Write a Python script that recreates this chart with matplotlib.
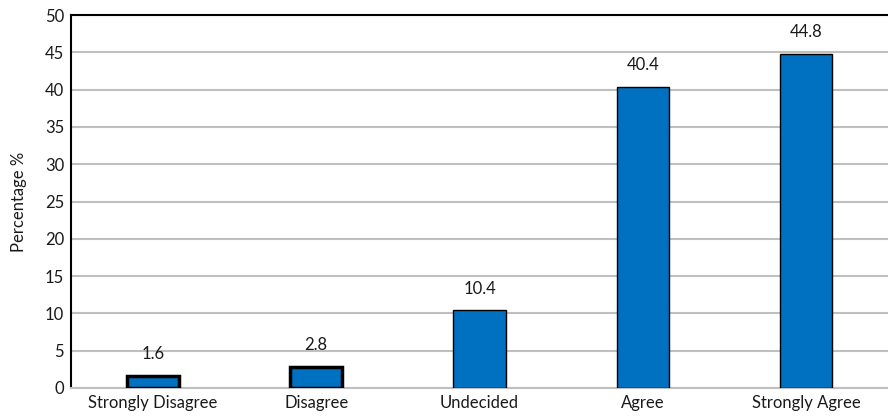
import matplotlib.pyplot as plt

plt.rcParams['font.family'] = ['Lato', 'DejaVu Sans']

# survey responses
responses = ['Strongly Disagree', 'Disagree', 'Undecided', 'Agree', 'Strongly Agree']
percent = [1.6, 2.8, 10.4, 40.4, 44.8]

fig = plt.figure(figsize=(8.88, 4.19), dpi=100)
ax = fig.add_axes([0.08, 0.074, 0.92, 0.89])

x = range(len(responses))
edge_w = [2.5, 2.5, 1, 1, 1]
bars = ax.bar(x, percent, width=0.32, color='#0070C0', edgecolor='black',
              linewidth=edge_w, zorder=3)

for b, v in zip(bars, percent):
    ax.annotate(f'{v}', (b.get_x() + b.get_width() / 2, v),
                xytext=(0, 10), textcoords='offset points',
                ha='center', va='bottom', fontsize=12, color='#1a1a1a')

ax.set_xlim(-0.5, 4.5)
ax.set_ylim(0, 50)
ax.set_yticks(range(0, 51, 5))
ax.set_xticks(list(x))
ax.set_xticklabels(responses)
ax.tick_params(length=0, labelsize=12, colors='#1a1a1a', pad=5)
ax.grid(axis='y', color='#bfbfbf', linewidth=1.5, zorder=0)
ax.set_ylabel('Percentage %', fontsize=12, color='#1a1a1a', labelpad=13)

ax.spines['left'].set_linewidth(1.5)
ax.spines['top'].set_linewidth(1.5)
ax.spines['bottom'].set_color('#bfbfbf')
ax.spines['bottom'].set_linewidth(1.5)
ax.spines['right'].set_visible(False)

plt.savefig('out.png')
